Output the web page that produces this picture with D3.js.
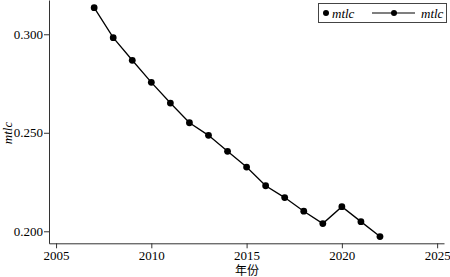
<!DOCTYPE html>
<html lang="zh">
<head>
<meta charset="UTF-8">
<title>mtlc</title>
<style>
  body { margin: 0; background: #fff; }
  .axis path, .axis line { stroke: #333; stroke-width: 1; }
</style>
<script src="https://d3js.org/d3.v7.min.js"></script>
</head>
<body>
<script>
  // data
  var years = [2007, 2008, 2009, 2010, 2011, 2012, 2013, 2014, 2015, 2016, 2017, 2018, 2019, 2020, 2021, 2022];
  var mtlc  = [0.3135, 0.2983, 0.2868, 0.2756, 0.2651, 0.2551, 0.2487, 0.2406, 0.2326, 0.2231, 0.2171, 0.2102, 0.2039, 0.2125, 0.2049, 0.1973];
  var xTicks = [2005, 2010, 2015, 2020, 2025];
  var yTicks = [0.200, 0.250, 0.300];

  const w = 450, h = 277;
  const serif = "'Liberation Serif'";

  const svg = d3.select("body").append("svg")
      .attr("width", w).attr("height", h);

  var x = d3.scaleLinear().domain([2004.63, 2025.36]).range([49, 444]);
  var y = d3.scaleLinear().domain([0.1939, 0.3174]).range([243.3, 0]);

  // axes
  var gx = svg.append("g").attr("class", "axis")
     .attr("transform", "translate(0,243.3)")
     .call(d3.axisBottom(x).tickValues(xTicks).tickFormat(d3.format("d")).tickSize(5).tickSizeOuter(0));
  gx.selectAll("text").attr("y", 7)
     .style("font-family", serif).style("font-size", "13px").style("fill", "#000");

  var gy = svg.append("g").attr("class", "axis")
     .attr("transform", "translate(49,0)")
     .call(d3.axisLeft(y).tickValues(yTicks).tickFormat(d3.format(".3f")).tickSize(5).tickSizeOuter(0));
  gy.selectAll("text").attr("x", -6)
     .style("font-family", serif).style("font-size", "13px").style("fill", "#000");

  // titles
  svg.append("text")
     .attr("transform", "translate(12,133) rotate(-90)")
     .attr("text-anchor", "middle")
     .style("font-family", serif).style("font-size", "13px").style("font-style", "italic")
     .text("mtlc");
  svg.append("text")
     .attr("x", 247).attr("y", 275)
     .attr("text-anchor", "middle")
     .style("font-family", "'Noto Sans CJK SC', sans-serif").style("font-size", "12px")
     .text("年份");

  // line + points
  var pts = years.map((d, i) => [d, mtlc[i]]);
  svg.append("path").datum(pts)
     .attr("fill", "none").attr("stroke", "#000").attr("stroke-width", 1.3)
     .attr("d", d3.line().x(d => x(d[0])).y(d => y(d[1])));
  svg.append("g").selectAll("circle")
     .data(pts).enter().append("circle")
     .attr("cx", d => x(d[0])).attr("cy", d => y(d[1]))
     .attr("r", 3.4).attr("fill", "#000");

  // legend
  var lg = svg.append("g");
  lg.append("rect").attr("x", 318.5).attr("y", 3.5).attr("width", 128).attr("height", 19)
    .attr("fill", "#fff").attr("stroke", "#444");
  lg.append("circle").attr("cx", 326).attr("cy", 13).attr("r", 3).attr("fill", "#000");
  lg.append("text").attr("x", 332).attr("y", 17.5)
    .style("font-family", serif).style("font-size", "13px").style("font-style", "italic").text("mtlc");
  lg.append("line").attr("x1", 372).attr("x2", 415).attr("y1", 13).attr("y2", 13)
    .attr("stroke", "#000").attr("stroke-width", 1.2);
  lg.append("circle").attr("cx", 394).attr("cy", 13).attr("r", 3).attr("fill", "#000");
  lg.append("text").attr("x", 421).attr("y", 17.5)
    .style("font-family", serif).style("font-size", "13px").style("font-style", "italic").text("mtlc");
</script>
</body>
</html>
